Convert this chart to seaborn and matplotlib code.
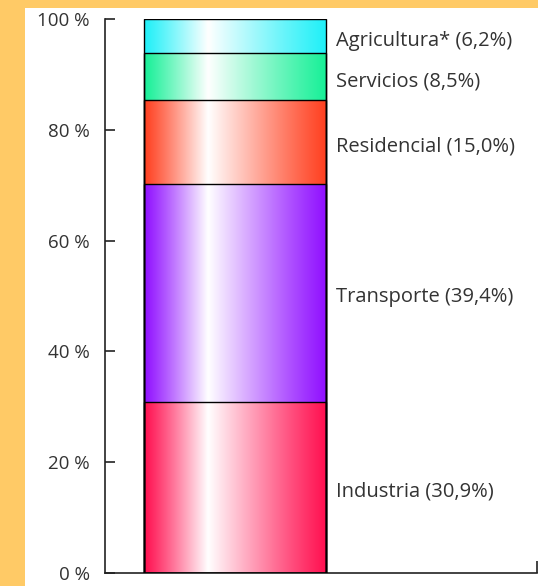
import numpy as np
import pandas as pd
import matplotlib
matplotlib.use("Agg")
import matplotlib.pyplot as plt
import seaborn as sns
from matplotlib.colors import to_rgb
from matplotlib.patches import Rectangle

# Data
sectors = ["Industria", "Transporte", "Residencial", "Servicios", "Agricultura*"]
shares = [30.9, 39.4, 15.0, 8.5, 6.2]
share_labels = ["30,9%", "39,4%", "15,0%", "8,5%", "6,2%"]
colors = ["#FF1050", "#9010FF", "#FF4020", "#18F098", "#20F0F8"]
ytick_vals = [0, 20, 40, 60, 80, 100]
ytick_labels = ["0 %", "20 %", "40 %", "60 %", "80 %", "100 %"]

sns.set_style("white")
plt.rcParams["font.family"] = ["Open Sans", "DejaVu Sans"]

W, H = 538, 586
fig = plt.figure(figsize=(W / 100, H / 100), dpi=100)
fig.patch.set_facecolor("#FFCA66")
fig.patches.append(Rectangle((25 / W, 0), 1 - 25 / W, (H - 8) / H,
                             transform=fig.transFigure, facecolor="white",
                             edgecolor="none", zorder=-10))

ax = fig.add_axes([105 / W, (H - 573) / H, 432 / W, (573 - 19) / H])
ax.patch.set_alpha(0)

cum = np.cumsum(shares)
df = pd.DataFrame({"x": ["total"] * len(sectors), "top": cum, "sector": sectors})

# draw cumulative bars from tallest to shortest so they stack visually
for i in range(len(sectors) - 1, -1, -1):
    sns.barplot(data=df.iloc[[i]], x="x", y="top", color=colors[i],
                width=0.8, edgecolor="black", linewidth=1.0, ax=ax,
                errorbar=None)

# gradient fill for each segment
patches = ax.patches[::-1]  # now ordered bottom segment first
n = 256
t = np.linspace(0, 1, n)
wpos = 0.35
for i, p in enumerate(patches):
    x0 = p.get_x()
    x1 = x0 + p.get_width()
    top = cum[i]
    bot = cum[i] - shares[i]
    c = np.array(to_rgb(colors[i]))
    w = np.where(t < wpos, t / wpos, 1 - (t - wpos) / (1 - wpos))
    w = np.clip(w, 0, 1) ** 1.1
    img = (1 - w)[:, None] * c[None, :] + w[:, None] * np.ones(3)[None, :]
    ax.imshow(img[None, :, :], extent=[x0, x1, bot, top], aspect="auto",
              zorder=2, interpolation="bilinear")
    p.set_facecolor("none")
    p.set_zorder(3)

# segment labels
for i in range(len(sectors)):
    mid = cum[i] - shares[i] / 2
    ax.text(0.445, mid - 0.8, f"{sectors[i]} ({share_labels[i]})", va="center",
            ha="left", fontsize=14.5, color="#333333")

ax.set_xlim(-0.571, 1.327)
ax.set_ylim(0, 100)
ax.set_yticks(ytick_vals)
ax.set_yticklabels(ytick_labels)
ax.set_xticks([1.327])
ax.set_xticklabels([""])
ax.set_xlabel("")
ax.set_ylabel("")
for s in ["top", "right"]:
    ax.spines[s].set_visible(False)
for s in ["left", "bottom"]:
    ax.spines[s].set_color("#222222")
    ax.spines[s].set_linewidth(1.2)
ax.tick_params(axis="y", left=True, direction="in", length=7, width=1.2,
               color="#222222", pad=11, labelsize=13.5, labelcolor="#333333")
ax.tick_params(axis="x", bottom=True, direction="in", length=9, width=1.2,
               color="#222222")

fig.savefig("out.png", dpi=100, facecolor=fig.get_facecolor())
